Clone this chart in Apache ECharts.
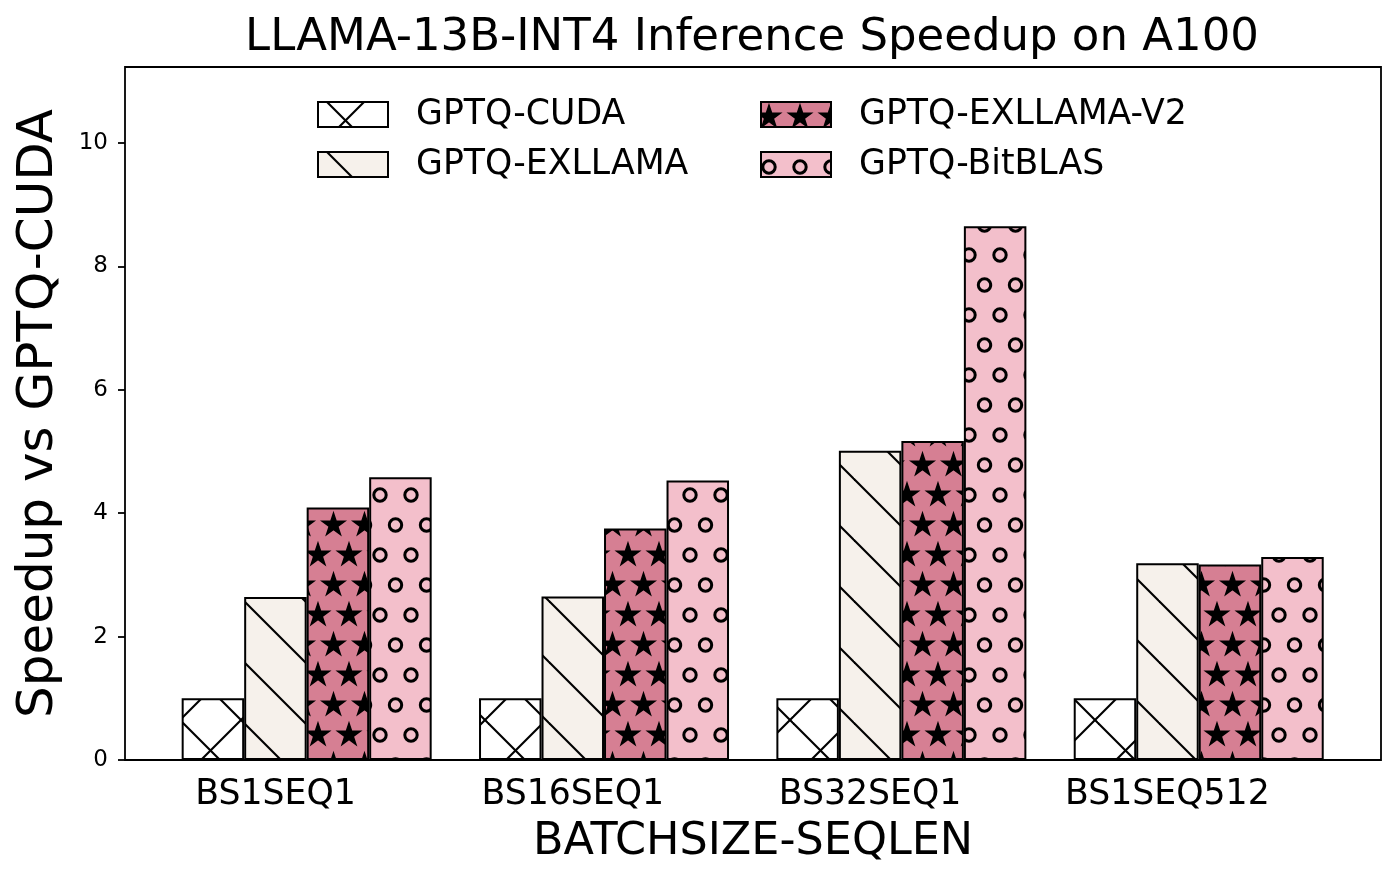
<!DOCTYPE html>
<html>
<head>
<meta charset="utf-8">
<title>LLAMA-13B-INT4 Inference Speedup on A100</title>
<script src="https://cdn.jsdelivr.net/npm/echarts@6/dist/echarts.min.js"></script>
<style>
  html, body { margin: 0; padding: 0; background: #fff; }
  #chart { width: 1398px; height: 882px; }
</style>
</head>
<body>
<div id="chart"></div>
<script>
// data
var categories = ['BS1SEQ1', 'BS16SEQ1', 'BS32SEQ1', 'BS1SEQ512'];
var seriesNames = ['GPTQ-CUDA', 'GPTQ-EXLLAMA', 'GPTQ-EXLLAMA-V2', 'GPTQ-BitBLAS'];
var cudaSpeedup = [1.0, 1.0, 1.0, 1.0];
var exllamaSpeedup = [2.64, 2.65, 5.01, 3.19];
var exllamaV2Speedup = [4.09, 3.75, 5.17, 3.17];
var bitblasSpeedup = [4.58, 4.53, 8.65, 3.29];
var yTicks = [0, 2, 4, 6, 8, 10];
var yMax = 11.23;

var FONT = 'DejaVu Sans';

// hatch tiles drawn on small canvases, used as repeat patterns
function tile(w, h, bg, draw) {
    var c = document.createElement('canvas');
    c.width = w;
    c.height = h;
    var ctx = c.getContext('2d');
    ctx.fillStyle = bg;
    ctx.fillRect(0, 0, w, h);
    draw(ctx, w, h);
    return c;
}

function hatchLines(ctx, p, offset, dir) {
    ctx.strokeStyle = '#000';
    ctx.lineWidth = 2.1;
    for (var k = -2; k <= 2; k++) {
        var x0 = offset + k * p;
        ctx.beginPath();
        if (dir > 0) {          // "\" lines
            ctx.moveTo(x0 - 6, -6);
            ctx.lineTo(x0 + p + 6, p + 6);
        } else {                // "/" lines
            ctx.moveTo(x0 + 6, -6);
            ctx.lineTo(x0 - p - 6, p + 6);
        }
        ctx.stroke();
    }
}

function starPath(ctx, cx, cy, R) {
    var r = R * 0.382;
    ctx.beginPath();
    for (var i = 0; i < 10; i++) {
        var rad = i % 2 === 0 ? R : r;
        var a = -Math.PI / 2 + i * Math.PI / 5;
        var x = cx + rad * Math.cos(a), y = cy + rad * Math.sin(a);
        if (i === 0) ctx.moveTo(x, y); else ctx.lineTo(x, y);
    }
    ctx.closePath();
}

// staggered grid: period 31 across, rows 30 apart
var dotSpots = [[8, 15], [39, 15], [23.5, 45], [54.5, 45]];

function eachWrapped(w, h, fn) {
    dotSpots.forEach(function (s) {
        [-w, 0, w].forEach(function (dx) {
            [-h, 0, h].forEach(function (dy) {
                fn(s[0] + dx, s[1] + dy);
            });
        });
    });
}

var crossTile = tile(61, 61, '#ffffff', function (ctx, w) {
    hatchLines(ctx, w, 9, 1);
    hatchLines(ctx, w, 46, -1);
});
var slashTile = tile(61, 61, '#f6f1eb', function (ctx, w) {
    hatchLines(ctx, w, 9, 1);
});
var starTile = tile(62, 60, '#d67f93', function (ctx, w, h) {
    ctx.fillStyle = '#000';
    ctx.strokeStyle = '#000';
    ctx.lineWidth = 1.5;
    eachWrapped(w, h, function (x, y) {
        starPath(ctx, x, y, 11.8);
        ctx.fill();
        ctx.stroke();
    });
});
var circleTile = tile(62, 60, '#f3bfcb', function (ctx, w, h) {
    ctx.strokeStyle = '#000';
    ctx.lineWidth = 3;
    eachWrapped(w, h, function (x, y) {
        ctx.beginPath();
        ctx.arc(x, y, 6.2, 0, Math.PI * 2);
        ctx.stroke();
    });
});

var tiles = [crossTile, slashTile, starTile, circleTile];
var values = [cudaSpeedup, exllamaSpeedup, exllamaV2Speedup, bitblasSpeedup];

var series = seriesNames.map(function (name, i) {
    return {
        name: name,
        type: 'bar',
        xAxisIndex: 1,
        yAxisIndex: 1,
        data: values[i],
        barWidth: 62.5,
        barGap: '0%',
        itemStyle: {
            color: { image: tiles[i], repeat: 'repeat' },
            borderColor: '#000',
            borderWidth: 2
        },
        emphasis: { disabled: true }
    };
});

var legendText = { fontFamily: FONT, fontSize: 34.7, color: '#000', padding: [0, 0, 0, 23] };

var chart = echarts.init(document.getElementById('chart'));
chart.setOption({
    animation: false,
    backgroundColor: '#fff',
    title: {
        text: 'LLAMA-13B-INT4 Inference Speedup on A100',
        left: 752,
        top: 16,
        padding: 0,
        textAlign: 'center',
        textStyle: { fontFamily: FONT, fontSize: 45, fontWeight: 'normal', color: '#000' }
    },
    legend: [
        {
            data: [seriesNames[0], seriesNames[1]],
            orient: 'vertical',
            left: 317, top: 97,
            padding: 0,
            itemWidth: 70, itemHeight: 25, itemGap: 15,
            icon: 'rect',
            textStyle: legendText,
            selectedMode: false
        },
        {
            data: [seriesNames[2], seriesNames[3]],
            orient: 'vertical',
            left: 760, top: 97,
            padding: 0,
            itemWidth: 70, itemHeight: 25, itemGap: 15,
            icon: 'rect',
            textStyle: legendText,
            selectedMode: false
        }
    ],
    grid: [
        // frame + y axis
        { left: 125, right: 17, top: 67, bottom: 122, show: true, borderColor: '#000', borderWidth: 1.8 },
        // bars
        { left: 158, right: 50.6, top: 67, bottom: 122 },
        // tick labels sit under the second bar of each group
        { left: 126.9, right: 82, top: 67, bottom: 122 }
    ],
    xAxis: [
        {
            gridIndex: 0, type: 'value', min: 0, max: 1,
            axisLine: { show: false }, axisTick: { show: false },
            axisLabel: { show: false }, splitLine: { show: false },
            name: 'BATCHSIZE-SEQLEN', nameLocation: 'middle', nameGap: 60,
            nameTextStyle: { fontFamily: FONT, fontSize: 44.5, color: '#000' }
        },
        { gridIndex: 1, type: 'category', data: categories, show: false },
        {
            gridIndex: 2, type: 'category', data: categories,
            axisLine: { show: false },
            axisTick: { alignWithLabel: true, length: 8, lineStyle: { color: '#000', width: 1.8 } },
            axisLabel: { fontFamily: FONT, fontSize: 34.7, color: '#000', margin: 17 }
        }
    ],
    yAxis: [
        {
            gridIndex: 0, type: 'value', min: 0, max: yMax, interval: 2,
            axisLine: { show: false },
            axisTick: { length: 7, customValues: yTicks, lineStyle: { color: '#000', width: 1.8 } },
            axisLabel: { customValues: yTicks, fontFamily: FONT, fontSize: 23, color: '#000', margin: 17 },
            splitLine: { show: false },
            name: 'Speedup vs GPTQ-CUDA', nameLocation: 'middle', nameGap: 61, nameRotate: 90,
            nameTextStyle: { fontFamily: FONT, fontSize: 50, color: '#000' }
        },
        { gridIndex: 1, type: 'value', min: 0, max: yMax, show: false },
        { gridIndex: 2, type: 'value', min: 0, max: yMax, show: false }
    ],
    series: series
});
</script>
</body>
</html>
